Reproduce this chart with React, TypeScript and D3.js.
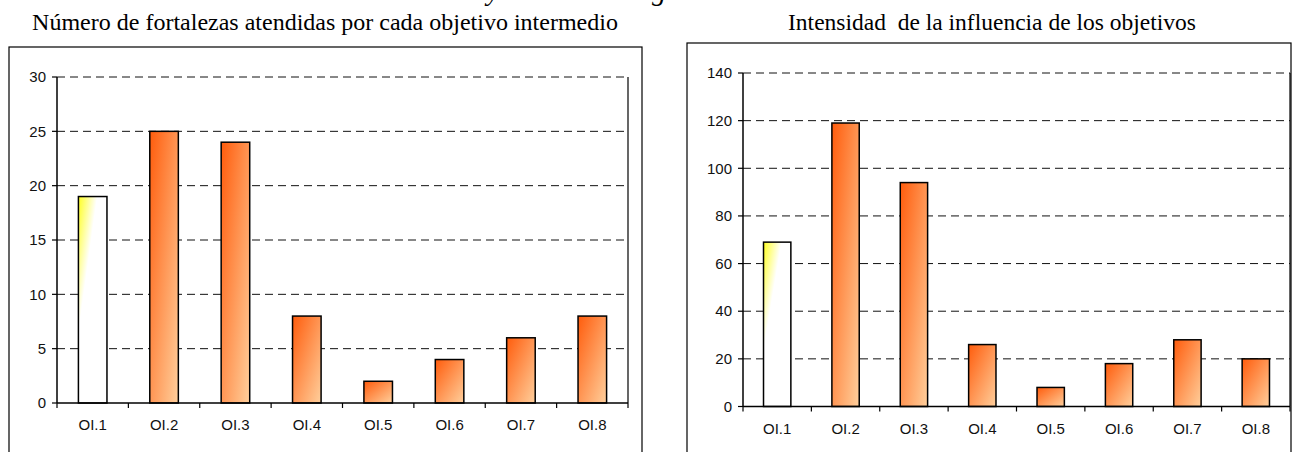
import * as d3 from "d3";

// categorías y valores
const categories = ["OI.1", "OI.2", "OI.3", "OI.4", "OI.5", "OI.6", "OI.7", "OI.8"];
const fortalezas = [19, 25, 24, 8, 2, 4, 6, 8];
const intensidad = [69, 119, 94, 26, 8, 18, 28, 20];
const ticksFortalezas = [0, 5, 10, 15, 20, 25, 30];
const ticksIntensidad = [0, 20, 40, 60, 80, 100, 120, 140];

const SERIF = "'Liberation Serif', 'Times New Roman', serif";
const SANS = "'Liberation Sans', Arial, sans-serif";

interface ChartProps {
  title: string;
  titleX: number;
  titleSize: number;
  frame: { x: number; y: number; w: number };
  plot: { left: number; right: number; top: number; bottom: number };
  values: number[];
  ticks: number[];
}

function BarChart({ title, titleX, titleSize, frame, plot, values, ticks }: ChartProps) {
  const x = d3
    .scaleBand<string>()
    .domain(categories)
    .range([plot.left, plot.right])
    .paddingInner(0.6)
    .paddingOuter(0.3);
  const y = d3
    .scaleLinear()
    .domain([0, d3.max(ticks)!])
    .range([plot.bottom, plot.top]);
  const step = x.step();

  return (
    <g>
      <text
        x={titleX}
        y={30}
        textAnchor="middle"
        fontFamily={SERIF}
        fontSize={titleSize}
        style={{ whiteSpace: "pre" }}
      >
        {title}
      </text>
      <rect x={frame.x} y={frame.y} width={frame.w} height={500} fill="#fff" stroke="#000" strokeWidth={1.2} />

      {/* gridlines */}
      {ticks.slice(1).map((t) => (
        <line
          key={t}
          x1={plot.left}
          x2={plot.right}
          y1={y(t)}
          y2={y(t)}
          stroke="#111"
          strokeDasharray="8,5"
          strokeWidth={1}
        />
      ))}
      <line x1={plot.right} x2={plot.right} y1={plot.top} y2={plot.bottom} stroke="#000" strokeWidth={1.2} />

      {/* bars */}
      {values.map((v, i) => (
        <rect
          key={categories[i]}
          x={x(categories[i])}
          y={y(v)}
          width={x.bandwidth()}
          height={y(0) - y(v)}
          fill={i === 0 ? "url(#gradAmarillo)" : "url(#gradNaranja)"}
          stroke="#000"
          strokeWidth={1.5}
        />
      ))}

      {/* y axis */}
      <line x1={plot.left} x2={plot.left} y1={plot.top} y2={plot.bottom} stroke="#000" strokeWidth={1.5} />
      {ticks.map((t) => (
        <g key={t}>
          <line x1={plot.left - 5} x2={plot.left} y1={y(t)} y2={y(t)} stroke="#000" strokeWidth={1.2} />
          <text
            x={plot.left - 11}
            y={y(t)}
            dy="0.35em"
            textAnchor="end"
            fontFamily={SANS}
            fontSize={15}
            fill="#111"
          >
            {t}
          </text>
        </g>
      ))}

      {/* x axis */}
      <line x1={plot.left} x2={plot.right} y1={plot.bottom} y2={plot.bottom} stroke="#000" strokeWidth={1.5} />
      {d3.range(categories.length + 1).map((i) => (
        <line
          key={i}
          x1={plot.left + i * step}
          x2={plot.left + i * step}
          y1={plot.bottom}
          y2={plot.bottom + 5}
          stroke="#000"
          strokeWidth={1.2}
        />
      ))}
      {categories.map((c) => (
        <text
          key={c}
          x={x(c)! + x.bandwidth() / 2}
          y={plot.bottom + 27}
          textAnchor="middle"
          fontFamily={SANS}
          fontSize={15}
          fill="#111"
        >
          {c}
        </text>
      ))}
    </g>
  );
}

export default function App() {
  return (
    <svg
      width={1293}
      height={452}
      style={{ position: "absolute", left: 0, top: 0, background: "#fff" }}
    >
      <defs>
        <linearGradient id="gradNaranja" x1="0" y1="0" x2="1" y2="1">
          <stop offset="0" stopColor="#ff5c0c" />
          <stop offset="1" stopColor="#ffcf9c" />
        </linearGradient>
        <linearGradient id="gradAmarillo" x1="0" y1="0" x2="1" y2="1">
          <stop offset="0" stopColor="#ffff20" />
          <stop offset="0.33" stopColor="#ffffff" />
          <stop offset="1" stopColor="#ffffff" />
        </linearGradient>
      </defs>

      {/* restos del título principal recortado */}
      <text x={487} y={0} fontFamily={SERIF} fontSize={28} fontStyle="italic">y</text>
      <text x={652} y={0} fontFamily={SERIF} fontSize={28} fontStyle="italic">g</text>

      <BarChart
        title="Número de fortalezas atendidas por cada objetivo intermedio"
        titleX={325}
        titleSize={24}
        frame={{ x: 9, y: 47, w: 633 }}
        plot={{ left: 57, right: 628, top: 77, bottom: 403 }}
        values={fortalezas}
        ticks={ticksFortalezas}
      />
      <BarChart
        title="Intensidad  de la influencia de los objetivos"
        titleX={992}
        titleSize={23.5}
        frame={{ x: 687, y: 43, w: 604 }}
        plot={{ left: 743, right: 1290, top: 73, bottom: 406.5 }}
        values={intensidad}
        ticks={ticksIntensidad}
      />
    </svg>
  );
}
